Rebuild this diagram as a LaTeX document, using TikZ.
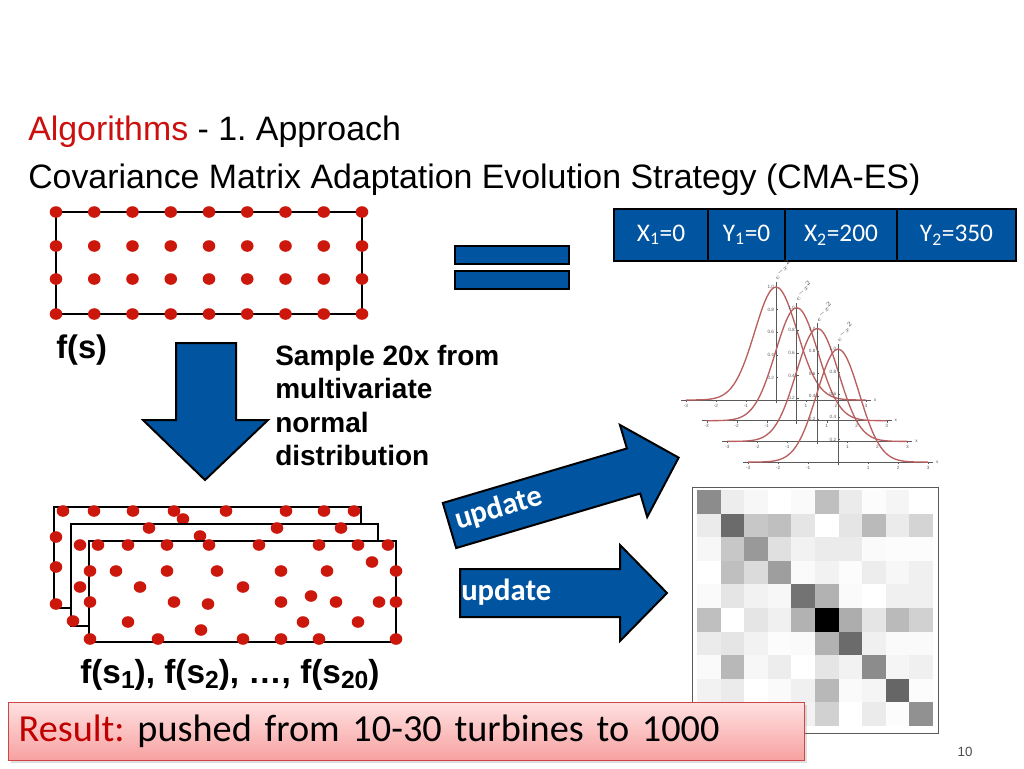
\documentclass[tikz,border=0pt]{standalone}
\usepackage{fontspec}
\setmainfont{Liberation Sans}
\newfontfamily\calib{Carlito}
\usepackage{tikz}
\usetikzlibrary{shadows}
\frenchspacing
\definecolor{blueF}{RGB}{0,84,160}
\definecolor{dotred}{RGB}{204,24,12}
\definecolor{titlered}{RGB}{204,16,16}
\definecolor{resred}{RGB}{192,0,0}
\definecolor{resTop}{RGB}{255,224,224}
\definecolor{resBot}{RGB}{247,160,160}
\definecolor{resEdge}{RGB}{205,70,70}
\definecolor{curvecol}{RGB}{185,95,95}
\definecolor{axisgray}{RGB}{90,90,90}
\tikzstyle{blockarrow} = [fill=blueF, draw=black, line width=1.5pt, line join=miter]
\tikzstyle{dotbox} = [draw=black, line width=2.2pt, fill=white]
\tikzstyle{tcell} = [draw=black, line width=1.5pt, fill=blueF, text=white, inner sep=0pt, minimum height=39pt, font=\calib\fontsize{19}{22}\selectfont]
\tikzstyle{tiny} = [font=\fontsize{3.5}{4}\selectfont, text=axisgray, inner sep=0.5pt]
\newcommand\lowsub[1]{\raisebox{-0.3ex}{\fontsize{18.5}{20}\selectfont #1}}

\begin{document}
\begin{tikzpicture}[x=0.75pt, y=-0.75pt]
  \useasboundingbox (0,0) rectangle (1024,768);
  \fill[white] (0,0) rectangle (1024,768);

  % Title
  \node[anchor=base west, inner sep=0pt, font=\fontsize{25.4}{30}\selectfont] (ttl1) at (28,140)
    {\textcolor{titlered}{Algorithms} - 1. Approach};
  \node[anchor=base west, inner sep=0pt, font=\fontsize{25.4}{30}\selectfont] (ttl2) at (28,188)
    {Covariance Matrix Adaptation Evolution Strategy (CMA-ES)};

  % Mean grid f(s)
  \draw[dotbox] (56,212) rectangle (362,314);
  \foreach \i in {0,...,8}
    \foreach \j in {212,246,279,314}
      \fill[dotred] ({56+38.25*\i},\j) ellipse (6.3 and 5.8);
  \node[anchor=base west, inner sep=0pt, font=\bfseries\fontsize{24.5}{28}\selectfont] (fs) at (56,358) {f(s)};

  % Sampling arrow and text
  \draw[blockarrow] (176,343) -- (236,343) -- (236,420) -- (268,420) -- (205,480)
    -- (143,420) -- (176,420) -- cycle;
  \node[anchor=north west, inner sep=0pt, align=left, font=\bfseries\fontsize{21}{25}\selectfont] (sample) at (275,345)
    {Sample 20x from\\multivariate\\normal\\distribution};

  % Equals sign
  \draw[blockarrow] (455,246) rectangle (569,264);
  \draw[blockarrow] (455,271) rectangle (569,289);

  % Parameter table
  \node[tcell, minimum width=70.5pt] (x1) at (661,235) {X\textsubscript{1}=0};
  \node[tcell, minimum width=57.75pt] (y1) at (746.5,235) {Y\textsubscript{1}=0};
  \node[tcell, minimum width=84pt] (x2) at (841,235) {X\textsubscript{2}=200};
  \node[tcell, minimum width=89.25pt] (y2) at (956.5,235) {Y\textsubscript{2}=350};

  % Gaussian plots
  \foreach \k in {0,...,3} {
    \begin{scope}[shift={({776+20.7*\k},{400+20.7*\k})}]
      \draw[axisgray, line width=0.4pt] (-95,0) -- (95,0);
      \draw[axisgray, line width=0.4pt] (0,3) -- (0,-118);
      \foreach \t in {-3,-2,-1,1,2,3} {
        \draw[axisgray, line width=0.3pt] ({30*\t},0) -- ({30*\t},2);
        \node[tiny, anchor=north] at ({30*\t},3) {\t};
      }
      \foreach \t/\h in {0.2/0.2,0.4/0.4,0.6/0.6,0.8/0.8,1.0/1.0} {
        \draw[axisgray, line width=0.3pt] (0,{-113*\h}) -- (2,{-113*\h});
        \node[tiny, anchor=east] at (-1,{-113*\h}) {\t};
      }
      \node[tiny, anchor=west] at (97,0) {x};
      \node[tiny, rotate=40, anchor=south west] at (1,-118) {$e^{-x^2}$};
      \draw[curvecol, line width=1pt] plot[domain=-3:3, samples=61, smooth]
        ({30*\x}, {-113*exp(-(\x)*(\x))});
    \end{scope}
  }

  % Covariance matrix
  \draw[axisgray, line width=0.75pt] (692,487) rectangle (938,733);
  \foreach \rowv [count=\r from 0] in {
      {45,7,3,0,2,25,8,1,4,0},
      {8,58,22,25,10,0,10,27,8,17},
      {3,22,40,12,5,8,8,2,1,1},
      {0,25,14,38,2,5,1,7,3,6},
      {2,10,5,3,55,30,2,0,6,6},
      {25,0,10,6,30,100,32,10,27,18},
      {8,10,5,1,2,30,58,6,2,2},
      {2,28,3,7,0,10,5,45,4,6},
      {5,8,0,2,6,28,2,4,60,1},
      {3,5,1,1,5,18,0,8,1,43}}
    \foreach \v [count=\c from 0] in \rowv
      \fill[black!\v] ({697+23.6*\c},{490+23.6*\r}) rectangle +(23.6,23.6);

  % Sample grids f(s_1) ... f(s_20)
  \draw[dotbox] (54,507) rectangle (361,608);
  \foreach \p in {(63,511),(94,511),(133,511),(174,511),(226,511),(286,511),(324,511),
                  (354,511),(183,519),(56,537),(56,567),(56,604)}
    \fill[dotred] \p ellipse (6.3 and 5.8);
  \draw[dotbox] (71,524) rectangle (378,626);
  \foreach \p in {(149,528),(277,528),(341,528),(200,536),(80,545),(80,587),(73,621)}
    \fill[dotred] \p ellipse (6.3 and 5.8);
  \draw[dotbox] (89,541) rectangle (396,642);
  \foreach \p in {(98,545),(128,545),(167,545),(209,545),(259,545),(319,545),(358,545),(388,545),
                  (90,571),(116,571),(167,571),(217,571),(281,571),(327,571),(396,571),(372,562),
                  (140,587),(243,587),
                  (90,602),(174,602),(281,602),(336,602),(379,602),(396,602),(208,604),(311,596),
                  (128,622),(303,622),(358,622),(201,630),
                  (90,639),(158,639),(243,639),(281,639),(319,639),(396,639)}
    \fill[dotred] \p ellipse (6.3 and 5.8);
  \node[anchor=base west, inner sep=0pt, font=\bfseries\fontsize{25}{28}\selectfont] (fsn) at (80,683)
    {f(s\lowsub{1}), f(s\lowsub{2}), …, f(s\lowsub{20})};

  % Update arrows
  \begin{scope}[shift={(449.5,525.5)}, rotate=16.5]
    \draw[blockarrow] (0,-23.5) -- (192,-23.5) -- (192,-48) -- (239,0) -- (192,48)
      -- (192,23.5) -- (0,23.5) -- cycle;
    \node[rotate=16.5, text=white, inner sep=0pt, font=\calib\bfseries\fontsize{23}{26}\selectfont] (upd1) at (52,-2) {update};
  \end{scope}
  \draw[blockarrow] (460,569) -- (620,569) -- (620,545) -- (667,593) -- (620,641)
    -- (620,617) -- (460,617) -- cycle;
  \node[anchor=west, inner sep=0pt, text=white, font=\calib\bfseries\fontsize{23}{26}\selectfont] (upd2) at (461,592) {update};

  % Result box
  \node[anchor=north west, draw=resEdge, line width=1pt, top color=resTop, bottom color=resBot,
        drop shadow={shadow xshift=2pt, shadow yshift=-2pt, opacity=0.25},
        minimum width=597pt, minimum height=43.5pt, text width=582pt, align=left, inner xsep=7.5pt,
        font=\calib\fontsize{28.7}{32}\selectfont] (res) at (8,702)
    {\textcolor{resred}{Result:} pushed from 10-30 turbines to 1000};

  % Page number
  \node[font=\fontsize{10}{12}\selectfont, text=black!70] (pg) at (965,752) {10};
\end{tikzpicture}
\end{document}
